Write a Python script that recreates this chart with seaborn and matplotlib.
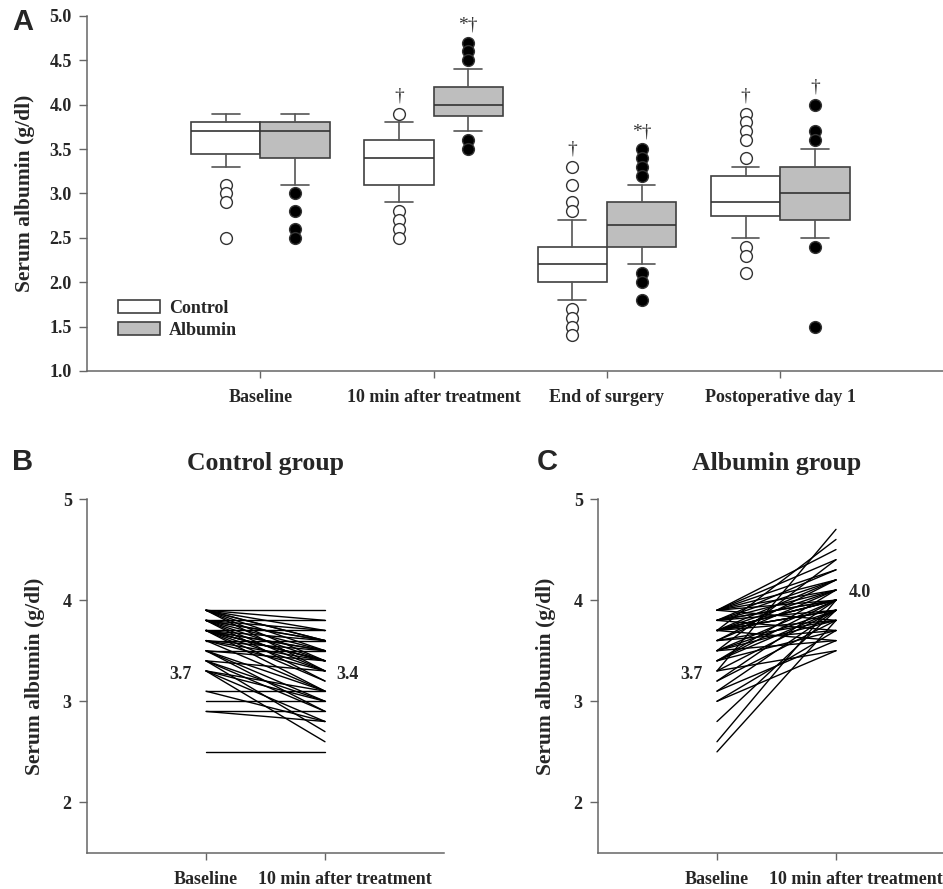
import numpy as np
import pandas as pd
import matplotlib
matplotlib.use('Agg')
import matplotlib.pyplot as plt
import matplotlib.transforms as mtransforms
from matplotlib.patches import Patch
import seaborn as sns

# ---- panel A: box summaries ----
timepoints = ['Baseline', '10 min after treatment', 'End of surgery', 'Postoperative day 1']

ctrl_lo = [3.3, 2.9, 1.8, 2.5]
ctrl_q1 = [3.45, 3.1, 2.0, 2.75]
ctrl_med = [3.7, 3.4, 2.2, 2.9]
ctrl_q3 = [3.8, 3.6, 2.4, 3.2]
ctrl_hi = [3.9, 3.8, 2.7, 3.3]
ctrl_out = [[3.1, 3.0, 2.9, 2.5],
            [3.9, 2.8, 2.7, 2.6, 2.5],
            [3.3, 3.1, 2.9, 2.8, 1.7, 1.6, 1.5, 1.4],
            [3.9, 3.8, 3.7, 3.6, 3.4, 2.4, 2.3, 2.1]]
ctrl_sig = ['', '\u2020', '\u2020', '\u2020']

alb_lo = [3.1, 3.7, 2.2, 2.5]
alb_q1 = [3.4, 3.87, 2.4, 2.7]
alb_med = [3.7, 4.0, 2.65, 3.0]
alb_q3 = [3.8, 4.2, 2.9, 3.3]
alb_hi = [3.9, 4.4, 3.1, 3.5]
alb_out = [[3.0, 2.8, 2.6, 2.5],
           [4.7, 4.6, 4.5, 3.6, 3.5],
           [3.5, 3.4, 3.3, 3.2, 2.1, 2.0, 1.8],
           [4.0, 3.7, 3.6, 2.4, 1.5]]
alb_sig = ['', '*\u2020', '*\u2020', '\u2020']

# ---- panels B and C: individual patients, baseline -> 10 min ----
ctrl_base = [3.9, 3.9, 3.9, 3.9, 3.9, 3.9, 3.9, 3.9, 3.8, 3.8, 3.8, 3.8, 3.8, 3.8, 3.8, 3.8,
             3.7, 3.7, 3.7, 3.7, 3.7, 3.7, 3.7, 3.7, 3.7, 3.7, 3.6, 3.6, 3.6, 3.6, 3.6,
             3.5, 3.5, 3.5, 3.5, 3.5, 3.4, 3.4, 3.4, 3.4, 3.3, 3.3, 3.3, 3.3,
             3.1, 3.1, 3.0, 2.9, 2.9, 2.5]
ctrl_10min = [3.9, 3.8, 3.7, 3.6, 3.5, 3.4, 3.3, 3.6, 3.8, 3.7, 3.6, 3.5, 3.4, 3.3, 3.6, 3.2,
              3.7, 3.6, 3.5, 3.4, 3.3, 3.1, 3.5, 3.2, 3.4, 3.4, 3.6, 3.4, 3.3, 3.1, 3.5,
              3.5, 3.4, 3.0, 2.9, 3.1, 3.3, 3.0, 2.7, 2.9, 3.1, 2.8, 2.6, 3.0,
              3.1, 2.8, 3.0, 2.9, 2.8, 2.5]

alb_base = [3.9, 3.9, 3.9, 3.9, 3.9, 3.9, 3.9, 3.8, 3.8, 3.8, 3.8, 3.8, 3.8, 3.8,
            3.7, 3.7, 3.7, 3.7, 3.7, 3.7, 3.7, 3.7, 3.7, 3.7, 3.7, 3.6, 3.6, 3.6, 3.6,
            3.5, 3.5, 3.5, 3.5, 3.5, 3.4, 3.4, 3.4, 3.4, 3.3, 3.3, 3.3, 3.2, 3.2,
            3.1, 3.1, 3.0, 3.0, 2.8, 2.6, 2.5]
alb_10min = [4.5, 4.3, 4.2, 4.0, 4.1, 3.8, 4.4, 4.2, 4.1, 4.0, 3.9, 4.3, 3.7, 4.0,
             4.6, 4.1, 4.0, 3.9, 3.8, 4.2, 3.6, 4.0, 3.9, 4.0, 3.9, 4.1, 3.8, 3.7, 4.2,
             3.9, 4.0, 3.8, 4.4, 3.6, 4.0, 3.9, 3.7, 4.1, 3.9, 4.7, 3.5, 3.8, 4.0,
             3.9, 3.6, 3.5, 3.7, 3.9, 4.0, 3.8]

ctrl_medians = [3.7, 3.4]
alb_medians = [3.7, 4.0]
pair_labels = ['Baseline', '10 min after treatment']

sns.set_style('ticks')
plt.rcParams['font.family'] = ['Liberation Serif', 'DejaVu Serif']
plt.rcParams['font.weight'] = 'bold'
plt.rcParams['axes.labelweight'] = 'bold'
plt.rcParams['axes.titleweight'] = 'bold'

edge = '#404040'
spine = '#666666'

fig = plt.figure(figsize=(9.43, 8.89), dpi=100)
axA = fig.add_axes([87 / 943, 1 - 371 / 889, (953.5 - 87) / 943, (371 - 16) / 889])
axB = fig.add_axes([87 / 943, 1 - 853 / 889, (444 - 87) / 943, (853 - 499) / 889])
axC = fig.add_axes([598 / 943, 1 - 853 / 889, (955 - 598) / 943, (853 - 499) / 889])


def make_stats(lo, q1, med, q3, hi, out):
    return [dict(whislo=lo[i], q1=q1[i], med=med[i], q3=q3[i], whishi=hi[i], fliers=out[i])
            for i in range(len(med))]


pos = np.arange(len(timepoints))
for stats, offset, fill, mfc in [
        (make_stats(ctrl_lo, ctrl_q1, ctrl_med, ctrl_q3, ctrl_hi, ctrl_out), -0.2, 'white', 'white'),
        (make_stats(alb_lo, alb_q1, alb_med, alb_q3, alb_hi, alb_out), 0.2, '#bebebe', 'black')]:
    axA.bxp(stats, positions=pos + offset, widths=0.4, capwidths=0.16, patch_artist=True,
            boxprops=dict(facecolor=fill, edgecolor=edge, linewidth=1.2),
            medianprops=dict(color='#333333', linewidth=1.2),
            whiskerprops=dict(color='#555555', linewidth=1.2),
            capprops=dict(color='#555555', linewidth=1.2),
            flierprops=dict(marker='o', markerfacecolor=mfc, markeredgecolor='#333333',
                            markersize=8.5, markeredgewidth=1),
            manage_ticks=False)

# significance marks above each box
for i in range(len(timepoints)):
    for sig, hi, out, offset in [(ctrl_sig[i], ctrl_hi[i], ctrl_out[i], -0.2),
                                 (alb_sig[i], alb_hi[i], alb_out[i], 0.2)]:
        if sig:
            top = max([hi] + out)
            axA.text(i + offset, top + 0.1, sig, ha='center', va='bottom',
                     fontsize=14, fontweight='normal', color='#333333')

axA.set_xlim(-1, 4)
axA.set_ylim(1, 5)
axA.set_yticks(np.arange(1.0, 5.01, 0.5))
axA.set_yticklabels(['%.1f' % v for v in np.arange(1.0, 5.01, 0.5)])
axA.set_xticks(pos)
axA.set_xticklabels(timepoints)
axA.set_ylabel('Serum albumin (g/dl)', fontsize=15.5, labelpad=10)

handles = [Patch(facecolor='white', edgecolor=edge, linewidth=1.2, label='Control'),
           Patch(facecolor='#bebebe', edgecolor=edge, linewidth=1.2, label='Albumin')]
axA.legend(handles=handles, loc='upper left', bbox_to_anchor=(0.036, 0.2), frameon=False,
           fontsize=13, handlelength=2.3, handleheight=0.75, handletextpad=0.5,
           labelspacing=0.25, borderpad=0, borderaxespad=0)


def spaghetti(ax, base, after, medians):
    n = len(base)
    df = pd.DataFrame({'patient': list(range(n)) * 2,
                       'time': [0] * n + [1] * n,
                       'value': list(base) + list(after)})
    sns.lineplot(data=df, x='time', y='value', units='patient', estimator=None,
                 color='black', linewidth=1.0, ax=ax, legend=False)
    ax.annotate('%.1f' % medians[0], xy=(0, 3.26), xytext=(-10, 0), textcoords='offset points',
                ha='right', va='center', fontsize=13)
    ax.set_xlim(-1, 2)
    ax.set_ylim(1.5, 5)
    ax.set_yticks([2, 3, 4, 5])
    ax.set_xticks([0, 1])
    ax.set_xticklabels(pair_labels)
    ax.set_xlabel('')
    ax.set_ylabel('Serum albumin (g/dl)', fontsize=15.5, labelpad=13)


spaghetti(axB, ctrl_base, ctrl_10min, ctrl_medians)
axB.annotate('%.1f' % ctrl_medians[1], xy=(1, 3.26), xytext=(8, 0), textcoords='offset points',
             ha='left', va='center', fontsize=13)
spaghetti(axC, alb_base, alb_10min, alb_medians)
axC.annotate('%.1f' % alb_medians[1], xy=(1, 4.08), xytext=(9, 0), textcoords='offset points',
             ha='left', va='center', fontsize=13)

axB.set_title('Control group', fontsize=18.5, pad=21)
axC.set_title('Albumin group', fontsize=18.5, pad=21)

for ax in (axA, axB, axC):
    sns.despine(ax=ax)
    for s in ('left', 'bottom'):
        ax.spines[s].set_color(spine)
        ax.spines[s].set_linewidth(1.1)
    ax.tick_params(axis='both', direction='out', color=spine, width=1.0, labelsize=13)
    ax.tick_params(axis='y', length=6, pad=5)
    ax.tick_params(axis='x', length=5, pad=8)

# second tick label in B and C sits a little right of its tick
shift = mtransforms.ScaledTranslation(20 / 100, 0, fig.dpi_scale_trans)
for ax in (axB, axC):
    lab = ax.get_xticklabels()[1]
    lab.set_transform(lab.get_transform() + shift)

fig.text(23 / 943, 1 - 22 / 889, 'A', family='Liberation Sans', fontweight='bold',
         fontsize=21, ha='center', va='center')
fig.text(23 / 943, 1 - 462 / 889, 'B', family='Liberation Sans', fontweight='bold',
         fontsize=21, ha='center', va='center')
fig.text(547 / 943, 1 - 462 / 889, 'C', family='Liberation Sans', fontweight='bold',
         fontsize=21, ha='center', va='center')

fig.savefig('out.png', dpi=100)
